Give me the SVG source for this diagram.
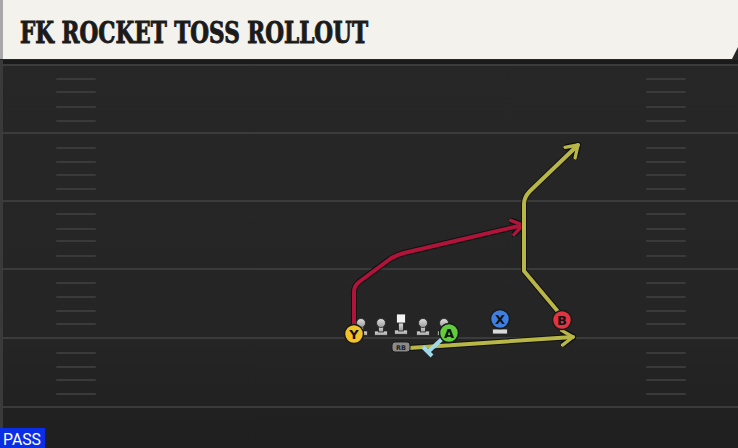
<svg xmlns="http://www.w3.org/2000/svg" width="738" height="448" viewBox="0 0 738 448">
<defs>
<style>
.yard{stroke:#3b3b3b;stroke-width:2}
.hash{stroke:#3a3a3a;stroke-width:2;stroke-linecap:round}
.outl{fill:none;stroke:#111;stroke-width:6;stroke-linejoin:round;stroke-linecap:round}
.red{fill:none;stroke:#b0143a;stroke-width:4;stroke-linejoin:round;stroke-linecap:round}
.yel{fill:none;stroke:#b8b646;stroke-width:4;stroke-linejoin:round;stroke-linecap:round}
.cyan{fill:none;stroke:#9fd8ea;stroke-width:4;stroke-linecap:butt}
.ring{stroke:#1a1a1a;stroke-width:1.5}
.lbl{font-family:"DejaVu Sans","Liberation Sans",sans-serif;font-weight:bold;font-size:13px;fill:#111;text-anchor:middle}
.lin{stroke:#222;stroke-width:0.8}
</style>
<linearGradient id="fieldg" x1="0" y1="0" x2="0" y2="1">
<stop offset="0" stop-color="#272727"/>
<stop offset="0.75" stop-color="#252525"/>
<stop offset="1" stop-color="#1f1f1f"/>
</linearGradient>
<linearGradient id="ling" x1="0" y1="0" x2="0" y2="1">
<stop offset="0" stop-color="#e0e0e0"/>
<stop offset="1" stop-color="#9a9a9a"/>
</linearGradient>
<marker id="ahR" viewBox="0 0 10 10" refX="7" refY="5" markerWidth="4.6" markerHeight="4.6" orient="auto" markerUnits="strokeWidth">
<path d="M1,1 L7,5 L1,9" fill="none" stroke="#b0143a" stroke-width="1.8" stroke-linecap="round" stroke-linejoin="round"/>
</marker>
<marker id="ahY" viewBox="0 0 10 10" refX="7" refY="5" markerWidth="4.6" markerHeight="4.6" orient="auto" markerUnits="strokeWidth">
<path d="M1,1 L7,5 L1,9" fill="none" stroke="#b8b646" stroke-width="1.8" stroke-linecap="round" stroke-linejoin="round"/>
</marker>
<marker id="ahK" viewBox="0 0 10 10" refX="7" refY="5" markerWidth="3.07" markerHeight="3.07" orient="auto" markerUnits="strokeWidth">
<path d="M1,1 L7,5 L1,9" fill="none" stroke="#111" stroke-width="3.4" stroke-linecap="round" stroke-linejoin="round"/>
</marker>
<g id="lineman">
<rect x="-6.5" y="8" width="13" height="4.5" rx="1" class="lin" fill="url(#ling)"/>
<rect x="-2.5" y="3" width="5" height="6" class="lin" fill="url(#ling)"/>
<circle cx="0" cy="0" r="4.5" class="lin" fill="url(#ling)"/>
</g>
</defs>

<g id="field">
<rect x="0" y="0" width="738" height="448" fill="url(#fieldg)"/>
<rect x="0" y="60" width="738" height="4" fill="#1a1a1a"/>
<rect x="0" y="60" width="3" height="388" fill="#3a3a3a"/>
<line class="yard" x1="0" y1="65" x2="738" y2="65"/>
<line class="yard" x1="0" y1="133" x2="738" y2="133"/>
<line class="yard" x1="0" y1="201" x2="738" y2="201"/>
<line class="yard" x1="0" y1="269" x2="738" y2="269"/>
<line class="yard" x1="0" y1="338" x2="738" y2="338"/>
<line class="yard" x1="0" y1="407" x2="738" y2="407"/>
<g id="hashes">
<path class="hash" d="M57,79H95M57,92H95M57,107H95M57,121H95M57,148H95M57,162H95M57,175H95M57,189H95M57,214H95M57,229H95M57,241H95M57,256H95M57,283H95M57,297H95M57,311H95M57,324H95M57,353H95M57,367H95M57,380H95M57,394H95"/>
<path class="hash" d="M647,79H685M647,92H685M647,107H685M647,121H685M647,148H685M647,162H685M647,175H685M647,189H685M647,214H685M647,229H685M647,241H685M647,256H685M647,283H685M647,297H685M647,311H685M647,324H685M647,353H685M647,367H685M647,380H685M647,394H685"/>
</g>
</g>

<g id="header">
<path d="M0,0 H738 V47 L732,59 H0 Z" fill="#f4f2ec"/>
<rect x="0" y="0" width="3" height="59" fill="#a8a8a8"/>
<text x="20" y="43" font-family="'DejaVu Serif Condensed','DejaVu Serif','Liberation Serif',serif" font-weight="bold" font-size="29" fill="#1b1b1b" stroke="#1b1b1b" stroke-width="0.9" textLength="348" lengthAdjust="spacingAndGlyphs">FK ROCKET TOSS ROLLOUT</text>
</g>

<g id="connectors">
<path class="outl" d="M354,326 L354,292 Q354,286 359,282 L390,259 Q396,255 404,253 L523,225" marker-end="url(#ahK)"/>
<path class="red" d="M354,326 L354,292 Q354,286 359,282 L390,259 Q396,255 404,253 L523,225" marker-end="url(#ahR)"/>
<path class="outl" d="M560,314 L524,271 L524,204 Q524,197 530,191 L578,145" marker-end="url(#ahK)"/>
<path class="yel" d="M560,314 L524,271 L524,204 Q524,197 530,191 L578,145" marker-end="url(#ahY)"/>
<path class="outl" d="M409,348 L573,337" marker-end="url(#ahK)"/>
<path class="yel" d="M409,348 L573,337" marker-end="url(#ahY)"/>
<path class="cyan" d="M442,339 L429,351 M423,347 L432,356"/>
</g>

<g id="linemen">
<use href="#lineman" x="361" y="323"/>
<use href="#lineman" x="381" y="323"/>
<g id="center">
<rect x="394.5" y="330" width="13" height="4.5" rx="1" class="lin" fill="url(#ling)"/>
<rect x="398.5" y="322" width="5" height="9" class="lin" fill="url(#ling)"/>
<rect x="396.5" y="314" width="9" height="9" fill="#f4f4f4" stroke="#222" stroke-width="0.8"/>
</g>
<use href="#lineman" x="423" y="323"/>
<use href="#lineman" x="444" y="323"/>
</g>

<g id="rb">
<rect x="392" y="342" width="18" height="10" rx="3" fill="#8a8a8a" stroke="#1a1a1a" stroke-width="1"/>
<text x="401" y="350" font-family="'DejaVu Sans','Liberation Sans',sans-serif" font-weight="bold" font-size="6.5" fill="#222" text-anchor="middle">RB</text>
</g>

<g id="y">
<circle cx="354" cy="334" r="9.5" fill="#f2c22a" class="ring"/>
<text x="354" y="339" class="lbl">Y</text>
</g>
<g id="a">
<circle cx="449" cy="333" r="9.5" fill="#62cc3c" class="ring"/>
<text x="449" y="338" class="lbl">A</text>
</g>
<g id="x">
<rect x="492.5" y="329" width="15" height="5" rx="1" fill="#d9d9d9" stroke="#222" stroke-width="0.8"/>
<circle cx="500" cy="319" r="9.5" fill="#3f7fe0" class="ring"/>
<text x="500" y="324" class="lbl">X</text>
</g>
<g id="b">
<circle cx="562" cy="320" r="9.5" fill="#e23340" class="ring"/>
<text x="562" y="325" class="lbl">B</text>
</g>

<g id="pass">
<rect x="0" y="428" width="45" height="20" fill="#0a2ee6"/>
<text x="3" y="445" font-family="'Roboto','Liberation Sans',sans-serif" font-size="16" fill="#ffffff" textLength="38" lengthAdjust="spacingAndGlyphs">PASS</text>
</g>
</svg>
